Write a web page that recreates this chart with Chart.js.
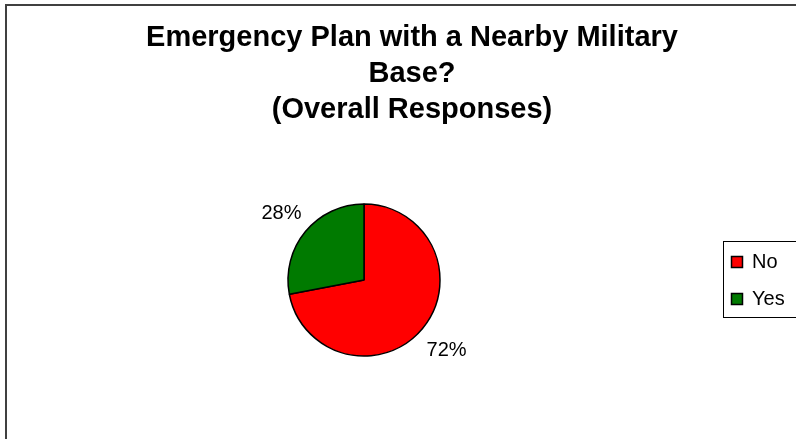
<!DOCTYPE html>
<html>
<head>
<meta charset="utf-8">
<script src="https://cdn.jsdelivr.net/npm/chart.js@4/dist/chart.umd.min.js"></script>
<style>
  html, body { margin: 0; padding: 0; background: #fff; }
  #wrap { width: 796px; height: 439px; }
</style>
</head>
<body>
<div id="wrap"><canvas id="pie_chart" width="796" height="439"></canvas></div>
<script>
var categories = ["No", "Yes"];
var percents = [72, 28];
var sliceColors = ["#ff0000", "#007a00"];
var titleLines = ["Emergency Plan with a Nearby Military", "Base?", "(Overall Responses)"];

// outer frame, title, slice labels and legend box drawn on the canvas
var decorations = {
    id: 'decorations',
    beforeDraw: function (chart) {
        var ctx = chart.ctx;
        ctx.save();
        ctx.fillStyle = '#fff';
        ctx.fillRect(0, 0, chart.width, chart.height);
        ctx.strokeStyle = '#404040';
        ctx.lineWidth = 2;
        ctx.beginPath();
        ctx.moveTo(6, chart.height + 2);
        ctx.lineTo(6, 5);
        ctx.lineTo(chart.width + 2, 5);
        ctx.stroke();

        ctx.fillStyle = '#000';
        ctx.font = 'bold 29px "Liberation Sans", Arial, sans-serif';
        ctx.textAlign = 'center';
        ctx.textBaseline = 'alphabetic';
        titleLines.forEach(function (line, i) {
            ctx.fillText(line, 412, 46 + i * 36);
        });
        ctx.restore();
    },
    afterDatasetsDraw: function (chart) {
        var ctx = chart.ctx;
        var meta = chart.getDatasetMeta(0);
        ctx.save();
        ctx.font = '20px "Liberation Sans", Arial, sans-serif';
        ctx.fillStyle = '#000';
        ctx.textAlign = 'center';
        ctx.textBaseline = 'alphabetic';
        meta.data.forEach(function (arc, i) {
            var mid = (arc.startAngle + arc.endAngle) / 2;
            var txt = percents[i] + '%';
            var w = ctx.measureText(txt).width;
            var dx = Math.cos(mid), dy = Math.sin(mid);
            var d = arc.outerRadius + 11 + Math.abs(dx) * w / 2 + Math.abs(dy) * 7.5;
            ctx.fillText(txt, arc.x + dx * d, arc.y + dy * d + 7.5);
        });

        // legend
        var lx = 723, ly = 241, lw = 80, lh = 76;
        ctx.fillStyle = '#fff';
        ctx.fillRect(lx, ly, lw, lh);
        ctx.strokeStyle = '#000';
        ctx.lineWidth = 1;
        ctx.strokeRect(lx + 0.5, ly + 0.5, lw, lh);
        ctx.textAlign = 'left';
        categories.forEach(function (c, i) {
            var base = 268 + i * 37;
            ctx.fillStyle = sliceColors[i];
            ctx.fillRect(731.5, base - 11.5, 11, 11);
            ctx.strokeStyle = '#000';
            ctx.lineWidth = 1.5;
            ctx.strokeRect(731.5, base - 11.5, 11, 11);
            ctx.fillStyle = '#000';
            ctx.fillText(c, 752, base);
        });
        ctx.restore();
    }
};

new Chart(document.getElementById("pie_chart").getContext("2d"), {
    type: 'pie',
    data: {
        labels: categories,
        datasets: [{
            data: percents,
            backgroundColor: sliceColors,
            borderColor: '#000',
            borderWidth: 1.5
        }]
    },
    options: {
        responsive: false,
        animation: false,
        radius: 76,
        layout: { padding: { left: 200, right: 268, top: 180, bottom: 59 } },
        plugins: {
            legend: { display: false },
            title: { display: false },
            tooltip: { enabled: false }
        }
    },
    plugins: [decorations]
});
</script>
</body>
</html>
